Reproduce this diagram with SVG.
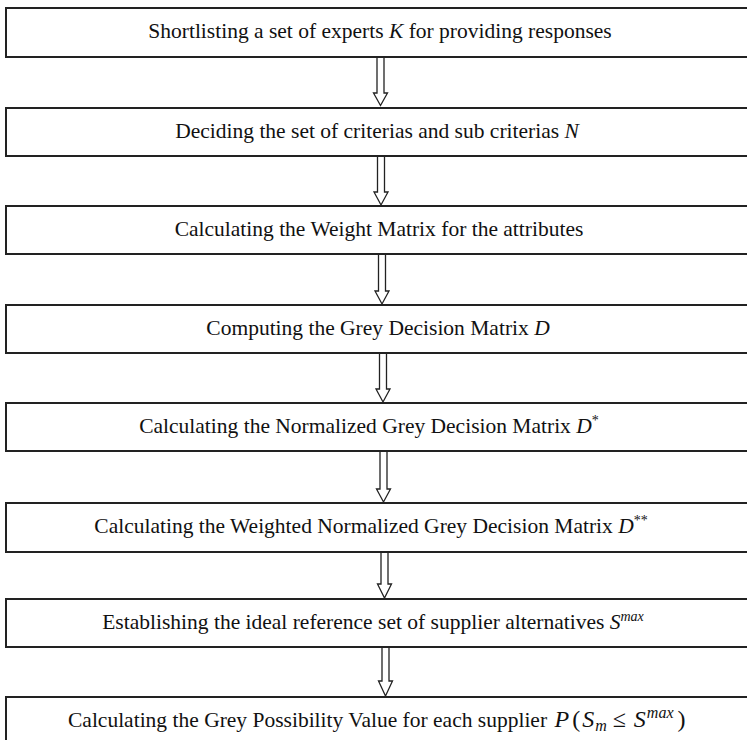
<svg xmlns="http://www.w3.org/2000/svg" width="747" height="740" viewBox="0 0 747 740">
<style>
.box{fill:#fff;stroke:#222;stroke-width:2}
.arr{fill:#fff;stroke:#222;stroke-width:1.3;stroke-linejoin:miter}
.t{font-family:"Liberation Serif","Times New Roman",serif;font-size:21.5px;fill:#111}
.m{font-style:italic}
.s{font-size:14px}
.s2{font-size:16px}
.mm{font-size:24px}
</style>
<rect width="747" height="740" fill="#fff"/>
<g id="connectors">
<polygon class="arr" points="377,57 384,57 384,93 387.5,93 380.5,105.5 373.5,93 377,93"/>
<polygon class="arr" points="377.5,156 384.5,156 384.5,192 388,192 381,205 374,192 377.5,192"/>
<polygon class="arr" points="378.5,254 385.5,254 385.5,291 389,291 382,304 375,291 378.5,291"/>
<polygon class="arr" points="379.5,353 386.5,353 386.5,389 390,389 383,402 376,389 379.5,389"/>
<polygon class="arr" points="380,451 387,451 387,489 390.5,489 383.5,502 376.5,489 380,489"/>
<polygon class="arr" points="381,552 388,552 388,584 391.5,584 384.5,598 377.5,584 381,584"/>
<polygon class="arr" points="382,647 389,647 389,681 392.5,681 385.5,696 378.5,681 382,681"/>
</g>
<g id="n1"><rect class="box" x="6" y="8" width="760" height="49"/>
<text class="t" x="380" y="38" text-anchor="middle">Shortlisting a set of experts <tspan class="m">K</tspan> for providing responses</text></g>
<g id="n2"><rect class="box" x="6" y="108" width="760" height="48"/>
<text class="t" x="377" y="138" text-anchor="middle">Deciding the set of criterias and sub criterias <tspan class="m">N</tspan></text></g>
<g id="n3"><rect class="box" x="6" y="206" width="760" height="48"/>
<text class="t" x="379" y="236" text-anchor="middle">Calculating the Weight Matrix for the attributes</text></g>
<g id="n4"><rect class="box" x="6" y="305" width="760" height="48"/>
<text class="t" x="378" y="335" text-anchor="middle">Computing the Grey Decision Matrix <tspan class="m">D</tspan></text></g>
<g id="n5"><rect class="box" x="6" y="403" width="760" height="48"/>
<text class="t" x="369" y="433" text-anchor="middle">Calculating the Normalized Grey Decision Matrix  <tspan class="m">D</tspan><tspan class="s" dy="-8">*</tspan></text></g>
<g id="n6"><rect class="box" x="6" y="503" width="760" height="49"/>
<text class="t" x="371" y="533" text-anchor="middle">Calculating the Weighted Normalized Grey Decision Matrix  <tspan class="m">D</tspan><tspan class="s" dy="-8">**</tspan></text></g>
<g id="n7"><rect class="box" x="6" y="599" width="760" height="48"/>
<text class="t" x="373" y="629" text-anchor="middle">Establishing the ideal reference set of supplier alternatives  <tspan class="m">S</tspan><tspan class="m s" dy="-8">max</tspan></text></g>
<g id="n8"><rect class="box" x="6" y="697" width="760" height="60"/>
<text class="t" x="68" y="727">Calculating the Grey Possibility Value for each supplier <tspan class="m mm" dx="2">P</tspan><tspan class="mm" dx="3">(</tspan><tspan class="m mm" dx="2">S</tspan><tspan class="m s2" dy="4" dx="1">m</tspan><tspan class="mm" dy="-4" dx="6">≤</tspan><tspan class="m mm" dx="8">S</tspan><tspan class="m s2" dy="-9" dx="1">max</tspan><tspan class="mm" dy="9" dx="4">)</tspan></text></g>
</svg>
